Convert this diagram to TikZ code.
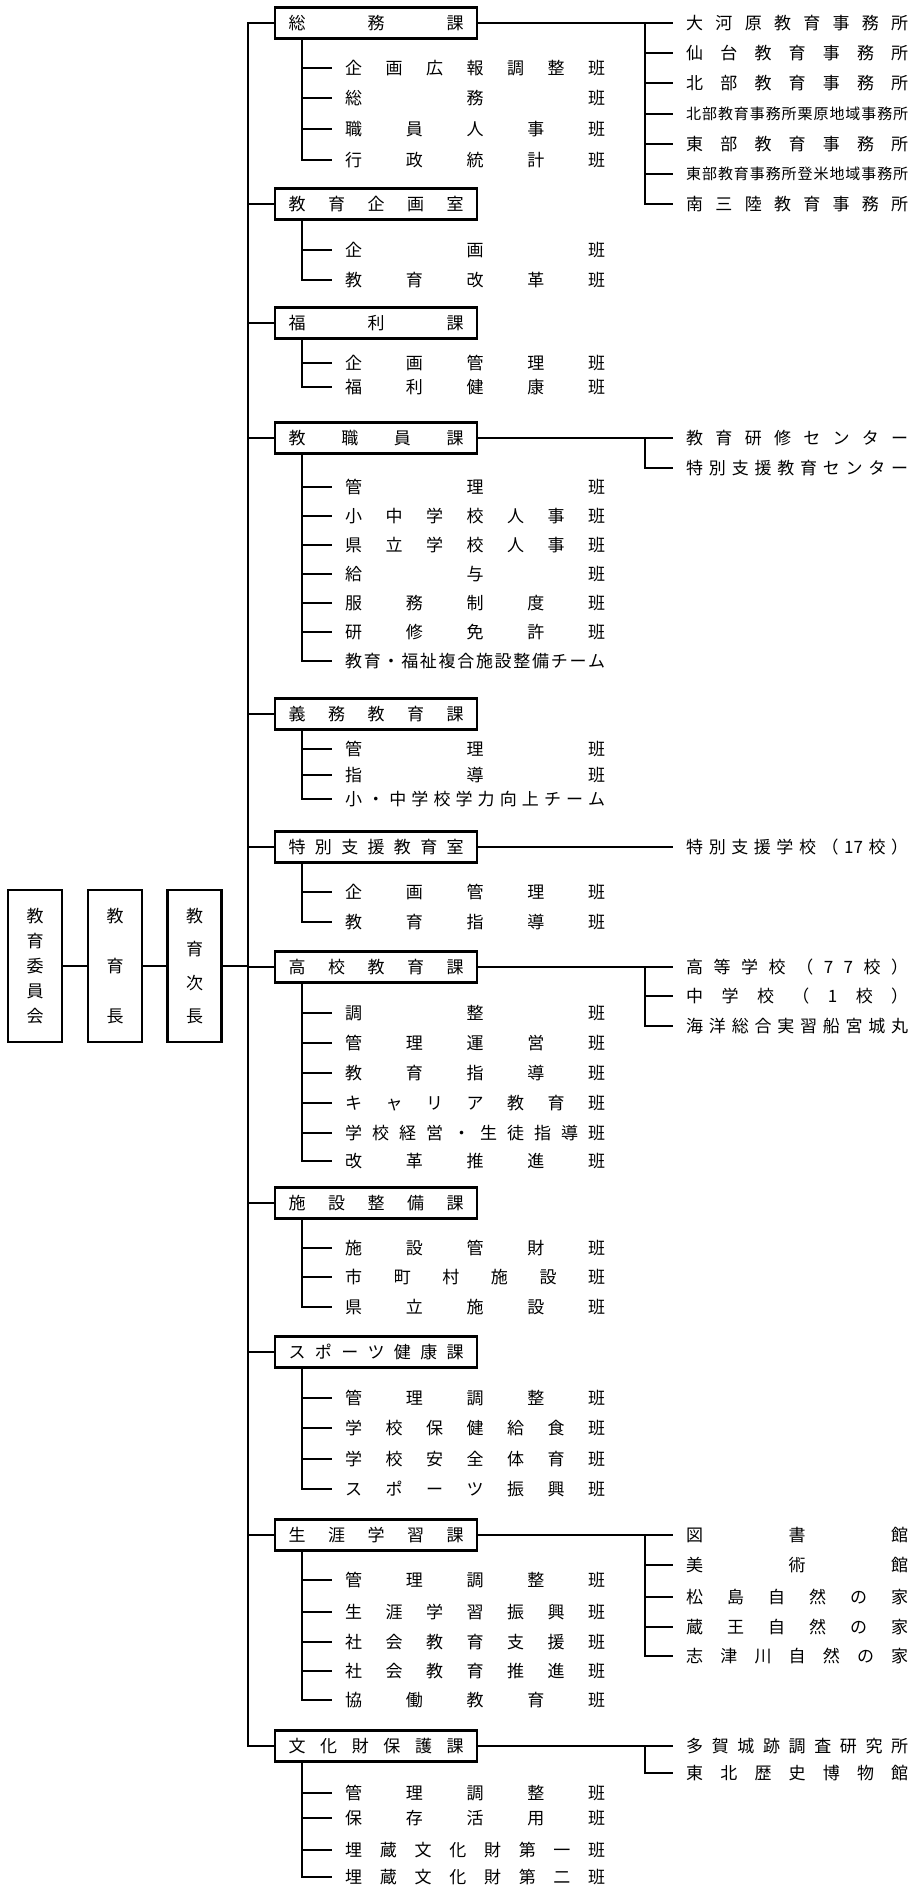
\documentclass[tikz,border=0pt]{standalone}
\usepackage{fontspec}
\newfontfamily\jp{Noto Sans CJK JP}
\makeatletter
\def\spr@loop#1#2\spr@end{#1\if\relax\detokenize{#2}\relax\else\hfill\spr@loop#2\spr@end\fi}
\newcommand\spreadh[2]{\hbox to #1{\vrule height .88em depth .12em width 0pt\spr@loop#2\spr@end}}
\def\vspr@loop#1#2\spr@end{\hbox to 1em{\vrule height .88em depth .12em width 0pt\hss#1\hss}\if\relax\detokenize{#2}\relax\else\vfill\vspr@loop#2\spr@end\fi}
\newcommand\spreadv[2]{\vbox to #1{\offinterlineskip\vspr@loop#2\spr@end}}
\makeatother
\newcommand\jpfont{\jp\fontsize{17}{20}\selectfont}
\newcommand\jpsmall{\jp\fontsize{15}{18}\selectfont}
\tikzset{
  ln/.style={line width=2.2pt},
  secbox/.style={draw, line width=2.3pt, minimum width=202pt, minimum height=31pt, inner sep=0pt, anchor=west, font=\jpfont},
  subtxt/.style={inner sep=0pt, anchor=west, font=\jpfont},
  rtxt/.style={inner sep=0pt, anchor=west, font=\jpfont},
  rsmall/.style={inner sep=0pt, anchor=west, font=\jpsmall},
  topbox/.style={draw, line width=2.3pt, minimum width=54pt, minimum height=152pt, inner sep=0pt, font=\jpfont},
}
\newcommand\kasec[3]{\node[secbox] (#1) at (274,#2) {\spreadh{175pt}{#3}};}
\newcommand\bansub[3]{\node[subtxt] (#1) at (345,#2) {\spreadh{260pt}{#3}};}
\newcommand\ritem[3]{\node[rtxt] (#1) at (686,#2) {\spreadh{222pt}{#3}};}
\newcommand\ritemsmall[3]{\node[rsmall] (#1) at (686,#2) {\spreadh{222pt}{#3}};}
\begin{document}
\begin{tikzpicture}[x=1pt,y=-1pt]
\useasboundingbox (0,0) rectangle (912,1886);
\coordinate (T) at (248,0);
\coordinate (SX) at (302,0);
\coordinate (TK) at (332,0);
\coordinate (RV) at (645,0);
\coordinate (RT) at (673,0);

% top-level boxes
\node[topbox] (bd) at (35,966) {\spreadv{115pt}{教育委員会}};
\node[topbox] (ed) at (115,966) {\spreadv{115pt}{教育長}};
\node[topbox] (ded) at (194.5,966) {\spreadv{115pt}{教育次長}};

% sections
\kasec{sA}{23}{総務課}
\kasec{sB}{204}{教育企画室}
\kasec{sC}{323}{福利課}
\kasec{sD}{438}{教職員課}
\kasec{sE}{714}{義務教育課}
\kasec{sF}{847}{特別支援教育室}
\kasec{sG}{967}{高校教育課}
\kasec{sH}{1203}{施設整備課}
\kasec{sI}{1352}{スポーツ健康課}
\kasec{sJ}{1535}{生涯学習課}
\kasec{sK}{1746}{文化財保護課}

% sub items
\bansub{A1}{68}{企画広報調整班}
\bansub{A2}{98}{総務班}
\bansub{A3}{129}{職員人事班}
\bansub{A4}{160}{行政統計班}
\bansub{B1}{250}{企画班}
\bansub{B2}{280}{教育改革班}
\bansub{C1}{363}{企画管理班}
\bansub{C2}{387}{福利健康班}
\bansub{D1}{487}{管理班}
\bansub{D2}{516}{小中学校人事班}
\bansub{D3}{545}{県立学校人事班}
\bansub{D4}{574}{給与班}
\bansub{D5}{603}{服務制度班}
\bansub{D6}{632}{研修免許班}
\bansub{D7}{661}{教育・福祉複合施設整備チーム}
\bansub{E1}{749}{管理班}
\bansub{E2}{775}{指導班}
\bansub{E3}{799}{小・中学校学力向上チーム}
\bansub{F1}{892}{企画管理班}
\bansub{F2}{922}{教育指導班}
\bansub{G1}{1013}{調整班}
\bansub{G2}{1043}{管理運営班}
\bansub{G3}{1073}{教育指導班}
\bansub{G4}{1103}{キャリア教育班}
\bansub{G5}{1133}{学校経営・生徒指導班}
\bansub{G6}{1161}{改革推進班}
\bansub{H1}{1248}{施設管財班}
\bansub{H2}{1277}{市町村施設班}
\bansub{H3}{1307}{県立施設班}
\bansub{I1}{1398}{管理調整班}
\bansub{I2}{1428}{学校保健給食班}
\bansub{I3}{1459}{学校安全体育班}
\bansub{I4}{1489}{スポーツ振興班}
\bansub{J1}{1580}{管理調整班}
\bansub{J2}{1612}{生涯学習振興班}
\bansub{J3}{1642}{社会教育支援班}
\bansub{J4}{1671}{社会教育推進班}
\bansub{J5}{1700}{協働教育班}
\bansub{K1}{1793}{管理調整班}
\bansub{K2}{1818}{保存活用班}
\bansub{K3}{1850}{埋蔵文化財第一班}
\bansub{K4}{1877}{埋蔵文化財第二班}

% right-hand items
\ritem{RA1}{23}{大河原教育事務所}
\ritem{RA2}{53}{仙台教育事務所}
\ritem{RA3}{83}{北部教育事務所}
\ritemsmall{RA4}{114}{北部教育事務所栗原地域事務所}
\ritem{RA5}{144}{東部教育事務所}
\ritemsmall{RA6}{174}{東部教育事務所登米地域事務所}
\ritem{RA7}{204}{南三陸教育事務所}
\ritem{RD1}{438}{教育研修センター}
\ritem{RD2}{468}{特別支援教育センター}
\ritem{RF1}{847}{特別支援学校（{17}校）}
\ritem{RG1}{967}{高等学校（77校）}
\ritem{RG2}{996}{中学校（1校）}
\ritem{RG3}{1026}{海洋総合実習船宮城丸}
\ritem{RJ1}{1535}{図書館}
\ritem{RJ2}{1565}{美術館}
\ritem{RJ3}{1597}{松島自然の家}
\ritem{RJ4}{1627}{蔵王自然の家}
\ritem{RJ5}{1656}{志津川自然の家}
\ritem{RK1}{1746}{多賀城跡調査研究所}
\ritem{RK2}{1773}{東北歴史博物館}

% top-level connectors
\draw[ln] (bd.east) -- (ed.west);
\draw[ln] (ed.east) -- (ded.west);
\draw[ln] (ded.east) -- (ded.east -| T);

% trunk
\draw[ln] (sA.west) -| (T |- sK.west) -- (sK.west);
\foreach \s in {sB,sC,sD,sE,sF,sG,sH,sI,sJ}
  \draw[ln] (\s.west -| T) -- (\s.west);

% sub branches
\draw[ln] (sA.south -| SX) |- (A4.west -| TK);
\foreach \n in {A1,A2,A3} \draw[ln] (\n.west -| SX) -- (\n.west -| TK);
\draw[ln] (sB.south -| SX) |- (B2.west -| TK);
\draw[ln] (B1.west -| SX) -- (B1.west -| TK);
\draw[ln] (sC.south -| SX) |- (C2.west -| TK);
\draw[ln] (C1.west -| SX) -- (C1.west -| TK);
\draw[ln] (sD.south -| SX) |- (D7.west -| TK);
\foreach \n in {D1,D2,D3,D4,D5,D6} \draw[ln] (\n.west -| SX) -- (\n.west -| TK);
\draw[ln] (sE.south -| SX) |- (E3.west -| TK);
\foreach \n in {E1,E2} \draw[ln] (\n.west -| SX) -- (\n.west -| TK);
\draw[ln] (sF.south -| SX) |- (F2.west -| TK);
\draw[ln] (F1.west -| SX) -- (F1.west -| TK);
\draw[ln] (sG.south -| SX) |- (G6.west -| TK);
\foreach \n in {G1,G2,G3,G4,G5} \draw[ln] (\n.west -| SX) -- (\n.west -| TK);
\draw[ln] (sH.south -| SX) |- (H3.west -| TK);
\foreach \n in {H1,H2} \draw[ln] (\n.west -| SX) -- (\n.west -| TK);
\draw[ln] (sI.south -| SX) |- (I4.west -| TK);
\foreach \n in {I1,I2,I3} \draw[ln] (\n.west -| SX) -- (\n.west -| TK);
\draw[ln] (sJ.south -| SX) |- (J5.west -| TK);
\foreach \n in {J1,J2,J3,J4} \draw[ln] (\n.west -| SX) -- (\n.west -| TK);
\draw[ln] (sK.south -| SX) |- (K4.west -| TK);
\foreach \n in {K1,K2,K3} \draw[ln] (\n.west -| SX) -- (\n.west -| TK);

% right branches
\draw[ln] (sA.east) -- (RA1.west -| RT);
\draw[ln] (RA1.west -| RV) |- (RA7.west -| RT);
\foreach \n in {RA2,RA3,RA4,RA5,RA6} \draw[ln] (\n.west -| RV) -- (\n.west -| RT);
\draw[ln] (sD.east) -- (RD1.west -| RT);
\draw[ln] (RD1.west -| RV) |- (RD2.west -| RT);
\draw[ln] (sF.east) -- (RF1.west -| RT);
\draw[ln] (sG.east) -- (RG1.west -| RT);
\draw[ln] (RG1.west -| RV) |- (RG3.west -| RT);
\draw[ln] (RG2.west -| RV) -- (RG2.west -| RT);
\draw[ln] (sJ.east) -- (RJ1.west -| RT);
\draw[ln] (RJ1.west -| RV) |- (RJ5.west -| RT);
\foreach \n in {RJ2,RJ3,RJ4} \draw[ln] (\n.west -| RV) -- (\n.west -| RT);
\draw[ln] (sK.east) -- (RK1.west -| RT);
\draw[ln] (RK1.west -| RV) |- (RK2.west -| RT);
\end{tikzpicture}
\end{document}
